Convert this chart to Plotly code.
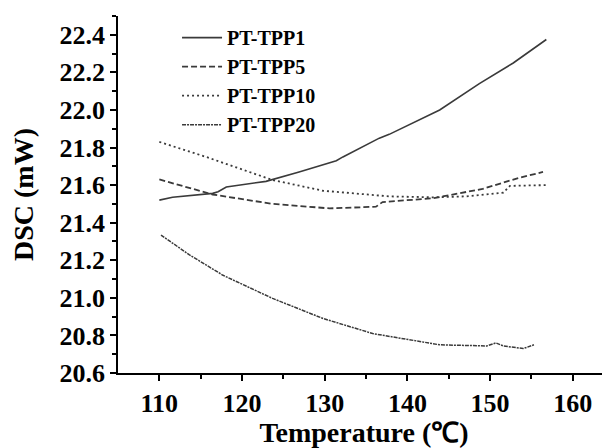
import plotly.graph_objects as go

# PT-TPP1 (solid)
x1 = [110.0, 111.6, 116.45, 117.1, 118.1, 122.9, 126.9, 131.4, 132.2, 136.6, 137.8, 143.9, 148.7, 152.8, 156.8]
y1 = [21.52, 21.535, 21.556, 21.565, 21.59, 21.62, 21.67, 21.73, 21.75, 21.85, 21.87, 22.0, 22.14, 22.25, 22.375]
# PT-TPP5 (dashed)
x5 = [110.0, 116.45, 123.7, 130.6, 136.2, 137.0, 143.1, 149.1, 153.2, 156.4]
y5 = [21.63, 21.55, 21.50, 21.476, 21.485, 21.51, 21.53, 21.58, 21.635, 21.67]
# PT-TPP10 (dotted)
x10 = [110.0, 115.65, 123.7, 129.8, 137.8, 143.1, 147.1, 151.6, 152.4, 156.8]
y10 = [21.83, 21.75, 21.627, 21.57, 21.54, 21.535, 21.54, 21.56, 21.596, 21.60]
# PT-TPP20 (fine dashes)
x20 = [110.2, 113.6, 117.7, 123.7, 129.8, 135.8, 143.9, 149.6, 150.7, 151.6, 154.0, 155.3]
y20 = [21.334, 21.23, 21.12, 20.997, 20.89, 20.81, 20.75, 20.744, 20.76, 20.744, 20.73, 20.75]

x_ticks = [110, 120, 130, 140, 150, 160]
x_minor = [115, 125, 135, 145, 155]
y_ticks = [20.6, 20.8, 21.0, 21.2, 21.4, 21.6, 21.8, 22.0, 22.2, 22.4]
y_minor = [20.7, 20.9, 21.1, 21.3, 21.5, 21.7, 21.9, 22.1, 22.3, 22.5]

names = ["PT-TPP1", "PT-TPP5", "PT-TPP10", "PT-TPP20"]
FONT = "Liberation Serif"
LC = "#3a3a3a"

fig = go.Figure()
fig.add_trace(go.Scatter(x=x1, y=y1, mode="lines", name=names[0],
                         line=dict(color=LC, width=1.6, dash="solid")))
fig.add_trace(go.Scatter(x=x5, y=y5, mode="lines", name=names[1],
                         line=dict(color=LC, width=1.8, dash="6px,3px")))
fig.add_trace(go.Scatter(x=x10, y=y10, mode="lines", name=names[2],
                         line=dict(color=LC, width=1.8, dash="2px,3px")))
fig.add_trace(go.Scatter(x=x20, y=y20, mode="lines", name=names[3],
                         line=dict(color=LC, width=1.5, dash="4px,1px,2px,1px")))

# page body has an 8px margin, so the figure is 8px smaller than the window
fig.update_layout(
    width=602, height=440,
    margin=dict(l=110, r=0, t=8, b=75),
    paper_bgcolor="white", plot_bgcolor="white",
    font=dict(family=FONT, color="black", weight="bold"),
    showlegend=True,
    legend=dict(x=0.12, y=0.994, xanchor="left", yanchor="top",
                bgcolor="rgba(0,0,0,0)", itemwidth=40,
                font=dict(family=FONT, size=20, color="black", weight="bold")),
    xaxis=dict(range=[105, 164.5], tickvals=x_ticks,
               ticks="outside", ticklen=6, tickwidth=1.5, tickcolor="black",
               minor=dict(tickvals=x_minor, ticks="outside", ticklen=4,
                          tickwidth=1.5, tickcolor="black"),
               showline=True, linecolor="black", linewidth=1.5, mirror=False,
               showgrid=False, zeroline=False, automargin=False,
               tickfont=dict(family=FONT, size=26, color="black", weight="bold"),
               title=dict(text="Temperature (℃)", standoff=4,
                          font=dict(family=FONT, size=28, color="black", weight="bold"))),
    yaxis=dict(range=[20.6, 22.5], tickvals=y_ticks,
               tickformat=".1f",
               ticks="outside", ticklen=6, tickwidth=1.5, tickcolor="black",
               minor=dict(tickvals=y_minor, ticks="outside", ticklen=4,
                          tickwidth=1.5, tickcolor="black"),
               showline=True, linecolor="black", linewidth=1.5, mirror=False,
               showgrid=False, zeroline=False, automargin=False,
               tickfont=dict(family=FONT, size=26, color="black", weight="bold"),
               title=dict(text="DSC (mW)", standoff=20,
                          font=dict(family=FONT, size=28, color="black", weight="bold"))),
)

fig.write_html("out.html")
